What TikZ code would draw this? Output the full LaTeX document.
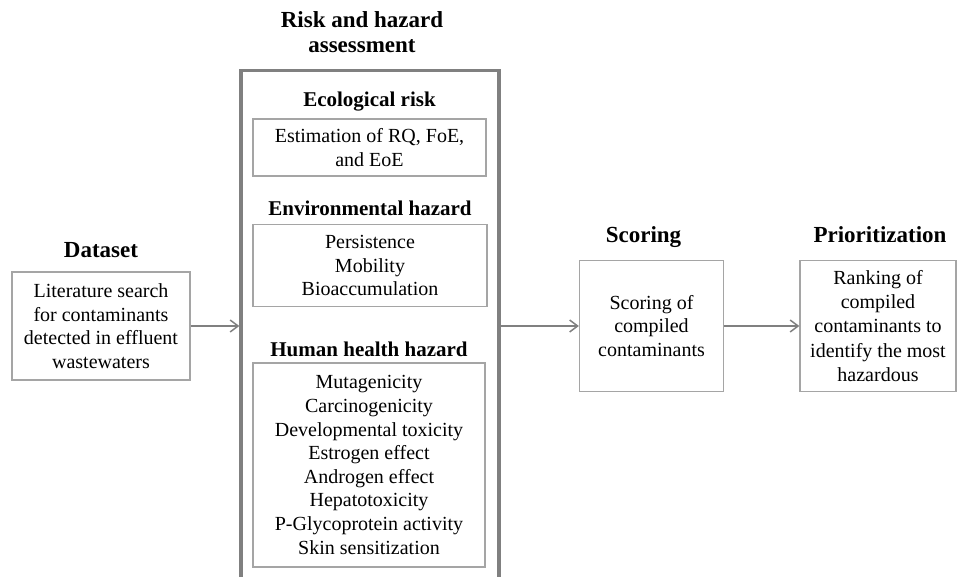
\documentclass[tikz,border=0pt]{standalone}
\usepackage{fontspec}
\setmainfont{Liberation Serif}
\usetikzlibrary{positioning}
\usetikzlibrary{arrows.meta}
\definecolor{boxgray}{RGB}{165,165,165}
\definecolor{framegray}{RGB}{128,128,128}
\definecolor{arrowgray}{RGB}{128,128,128}

\begin{document}
\begin{tikzpicture}[x=0.5pt, y=-0.5pt,
    every node/.style={font=\fontsize{10}{11.8}\selectfont},
    textbox/.style={draw=boxgray, line width=0.6pt, align=center, inner sep=0pt},
    heading/.style={font=\fontsize{11.5}{12.5}\selectfont\bfseries, align=center, inner sep=0pt, text depth=0pt},
    subheading/.style={font=\fontsize{10.5}{12}\selectfont\bfseries, inner sep=0pt, text depth=0pt},
    flow/.style={-{Straight Barb[length=4pt,width=6pt]}, draw=arrowgray, line width=0.75pt}]
    \useasboundingbox (0,0) rectangle (958,577);

    % Dataset
    \node (data) [textbox, minimum width=89pt, minimum height=54pt] at (101,326) {Literature search\\for contaminants\\detected in effluent\\wastewaters};
    \node (datatitle) [heading, above=7pt of data] {Dataset};

    % Risk and hazard assessment (frame runs off the bottom)
    \node (risk) [draw=framegray, line width=1.6pt, minimum width=129pt, minimum height=265pt, inner sep=0pt] at (370,335.5) {};
    \node (risktitle) [heading, above=8pt of risk, xshift=-4pt] {Risk and hazard\\assessment};

    \node (eco) [textbox, minimum width=116.5pt, minimum height=28.5pt] at (369.5,147.5) {Estimation of RQ, FoE,\\and EoE};
    \node (ecotitle) [subheading, above=5.5pt of eco] {Ecological risk};

    \node (env) [textbox, minimum width=117pt, minimum height=41pt] at (370,265.5) {Persistence\\Mobility\\Bioaccumulation};
    \node (envtitle) [subheading, above=4pt of env] {Environmental hazard};

    \node (hh) [textbox, minimum width=116pt, minimum height=102pt] at (369,465) {Mutagenicity\\Carcinogenicity\\Developmental toxicity\\Estrogen effect\\Androgen effect\\Hepatotoxicity\\P-Glycoprotein activity\\Skin sensitization};
    \node (hhtitle) [subheading, above=3pt of hh] {Human health hazard};

    % Scoring
    \node (score) [textbox, minimum width=72pt, minimum height=65.5pt] at (651.5,326) {Scoring of\\compiled\\contaminants};
    \node (scoretitle) [heading, above=8.5pt of score, xshift=-4pt] {Scoring};

    % Prioritization
    \node (prior) [textbox, minimum width=78pt, minimum height=65.5pt, font=\fontsize{10}{12.1}\selectfont] at (878,326) {Ranking of\\compiled\\contaminants to\\identify the most\\hazardous};
    \node (priortitle) [heading, above=8.5pt of prior, xshift=1pt] {Prioritization};

    % Flow arrows
    \draw[flow] (data) -- (data -| risk.west);
    \draw[flow] (risk.east |- score.west) -- (score.west);
    \draw[flow] (score) -- (prior);
\end{tikzpicture}
\end{document}
